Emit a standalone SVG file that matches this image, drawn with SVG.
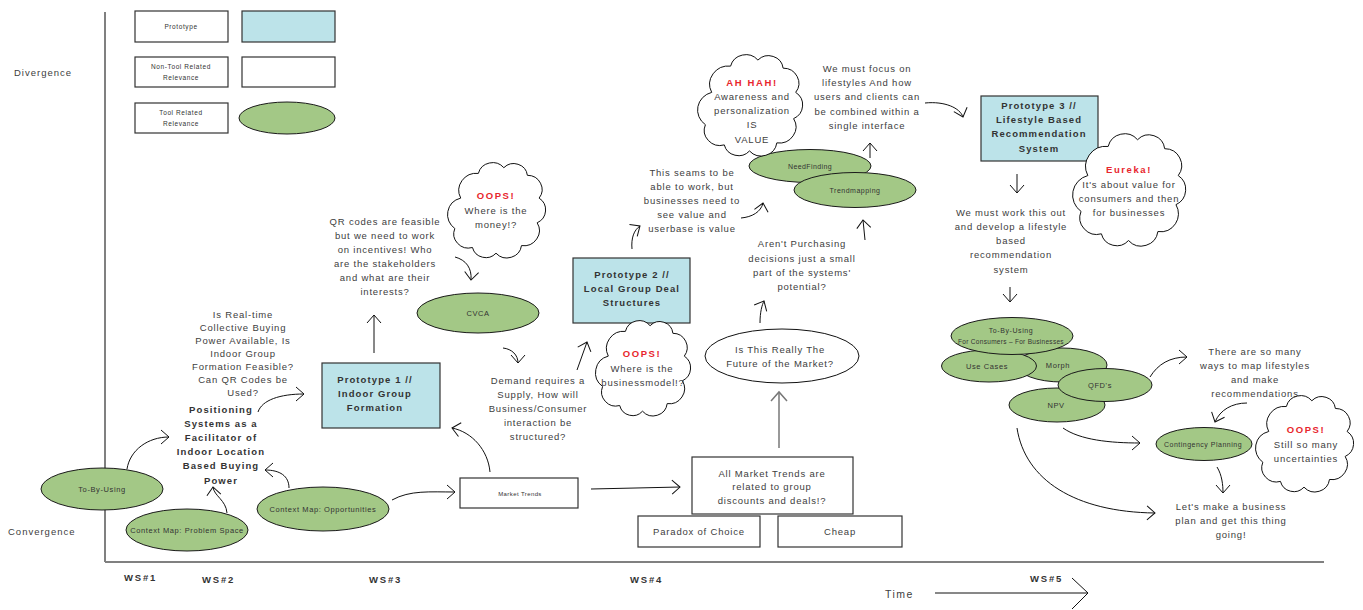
<svg xmlns="http://www.w3.org/2000/svg" xmlns:xlink="http://www.w3.org/1999/xlink" width="1363" height="610" viewBox="0 0 1363 610">
<style>
text{font-family:"Liberation Sans",Arial,sans-serif;text-anchor:middle}
.t{font-size:9.5px;letter-spacing:0.8px;fill:#404040}
.b{font-size:9.5px;font-weight:bold;letter-spacing:1.1px;fill:#333}
.r{font-size:9.5px;font-weight:bold;letter-spacing:1.6px;fill:#e8262d}
.e{font-size:7.5px;letter-spacing:0.6px;fill:#333}
.s{font-size:6.5px;letter-spacing:0.6px;fill:#333}
.ax{font-size:9.5px;letter-spacing:1px;fill:#404040;text-anchor:start}
.ws{font-size:9.5px;font-weight:bold;letter-spacing:1.8px;fill:#333;text-anchor:start}
.ell{fill:#a3c886;stroke:#1a1a1a;stroke-width:1}
.proto{fill:#bce3e9;stroke:#333;stroke-width:1.2}
.box{fill:#fff;stroke:#333;stroke-width:1.2}
.cloud{fill:#fff;stroke:#111;stroke-width:1}
.c{fill:none;stroke:#111;stroke-width:1;marker-end:url(#ah)}
</style>
<defs>
<marker id="ah" markerUnits="userSpaceOnUse" viewBox="-1 -8 10 16" refX="8" refY="0" markerWidth="10" markerHeight="16" orient="auto" overflow="visible">
<path d="M0,-7 L8,0 L0,7" fill="none" stroke="#111" stroke-width="1"/>
</marker>
<marker id="ahg" markerUnits="userSpaceOnUse" viewBox="-1 -8 10 16" refX="8" refY="0" markerWidth="10" markerHeight="16" orient="auto" overflow="visible">
<path d="M0,-8 L9,0 L0,8" fill="none" stroke="#777" stroke-width="1.5"/>
</marker>
<path id="cl" vector-effect="non-scaling-stroke" d="M14,38 A18,18 0 0 1 32,12 A15,15 0 0 1 58,6 A14,14 0 0 1 82,14 A15,15 0 0 1 94,38 A15,15 0 0 1 92,64 A16,16 0 0 1 76,88 A15,15 0 0 1 50,96 A14,14 0 0 1 26,90 A15,15 0 0 1 8,70 A18,18 0 0 1 14,38 Z"/>
</defs>

<g id="axes">
<line x1="105" y1="12" x2="105" y2="562" stroke="#808080" stroke-width="2"/>
<line x1="105" y1="562" x2="1324" y2="562" stroke="#808080" stroke-width="2"/>
<text class="ax" x="14" y="76">Divergence</text>
<text class="ax" x="8" y="535">Convergence</text>
<text class="ws" x="124" y="581">WS#1</text>
<text class="ws" x="202" y="583">WS#2</text>
<text class="ws" x="369" y="583">WS#3</text>
<text class="ws" x="630" y="583">WS#4</text>
<text class="ws" x="1030" y="582">WS#5</text>
<text class="ax" x="885" y="598" style="font-size:10.5px;letter-spacing:1.5px">Time</text>
<line x1="935" y1="593" x2="1088" y2="593" stroke="#111" stroke-width="1"/>
<polyline points="1072,578 1088,593 1072,609" fill="none" stroke="#111" stroke-width="1"/>
</g>

<g id="legend">
<rect class="box" x="135" y="11" width="93" height="31"/>
<text class="s" x="181" y="29">Prototype</text>
<rect class="proto" x="242" y="11" width="93" height="31"/>
<rect class="box" x="135" y="57" width="93" height="30"/>
<text class="s" x="181" y="69">Non-Tool Related</text>
<text class="s" x="181" y="80">Relevance</text>
<rect class="box" x="242" y="57" width="93" height="30"/>
<rect class="box" x="135" y="103" width="93" height="30"/>
<text class="s" x="181" y="115">Tool Related</text>
<text class="s" x="181" y="126">Relevance</text>
<ellipse class="ell" cx="287" cy="118" rx="48" ry="16"/>
</g>

<g id="connectors">
<path class="c" d="M127,469 C130,450 148,437 169,437"/>
<path class="c" d="M227,513 C226,500 214,496 213,487"/>
<path class="c" d="M289,488 C289,476 280,470 265,470"/>
<path class="c" d="M258,412 C262,400 280,394 304,394"/>
<path class="c" d="M392,500 C410,490 430,492 455,492"/>
<path class="c" d="M490,472 C488,450 472,432 452,428"/>
<path class="c" d="M374,353 L374,315"/>
<path class="c" d="M455,257 C466,260 472,268 471,280"/>
<path class="c" d="M503,348 C512,349 518,355 518,363"/>
<path class="c" d="M577,370 L587,342"/>
<path class="c" d="M632,249 C631,238 634,230 640,226"/>
<path class="c" d="M741,218 C752,217 761,212 763,203"/>
<path class="c" d="M865,240 L863,220"/>
<path class="c" d="M870,158 L870,143"/>
<path class="c" d="M925,103 C945,101 960,108 963,117"/>
<path class="c" d="M760,323 C760,312 762,305 764,301"/>
<path d="M779,448 L779,393" fill="none" stroke="#777" stroke-width="1.5" marker-end="url(#ahg)"/>
<path class="c" d="M591,489 L680,487"/>
<path class="c" d="M1017,174 L1017,193"/>
<path class="c" d="M1010,287 L1010,302"/>
<path class="c" d="M1150,377 C1158,364 1170,357 1187,357"/>
<path class="c" d="M1247,403 C1232,403 1220,410 1215,422"/>
<path class="c" d="M1063,428 C1080,440 1110,443 1140,443"/>
<path class="c" d="M1217,467 C1222,475 1223,485 1223,493"/>
<path class="c" d="M1017,428 C1025,480 1075,512 1155,513"/>
</g>

<g id="to-by-using">
<ellipse class="ell" cx="102" cy="489" rx="61" ry="21"/>
<text class="e" x="102" y="492">To-By-Using</text>
</g>
<g id="context-problem">
<ellipse class="ell" cx="187" cy="530" rx="61" ry="21"/>
<text class="e" x="187" y="533">Context Map: Problem Space</text>
</g>
<g id="context-opportunities">
<ellipse class="ell" cx="323" cy="509" rx="66" ry="22"/>
<text class="e" x="323" y="512">Context Map: Opportunities</text>
</g>
<g id="positioning">
<text class="b" x="221" y="413">Positioning</text>
<text class="b" x="221" y="427">Systems as a</text>
<text class="b" x="221" y="441">Facilitator of</text>
<text class="b" x="221" y="455">Indoor Location</text>
<text class="b" x="221" y="469">Based Buying</text>
<text class="b" x="221" y="484">Power</text>
</g>
<g id="realtime-question">
<text class="t" x="243" y="318">Is Real-time</text>
<text class="t" x="243" y="331">Collective Buying</text>
<text class="t" x="243" y="344">Power Available, Is</text>
<text class="t" x="243" y="357">Indoor Group</text>
<text class="t" x="243" y="370">Formation Feasible?</text>
<text class="t" x="243" y="383">Can QR Codes be</text>
<text class="t" x="243" y="396">Used?</text>
</g>
<g id="prototype1">
<rect class="proto" x="322" y="363" width="118" height="65"/>
<text class="b" x="375" y="383">Prototype 1 //</text>
<text class="b" x="375" y="397">Indoor Group</text>
<text class="b" x="375" y="411">Formation</text>
</g>
<g id="qr-codes">
<text class="t" x="385" y="225">QR codes are feasible</text>
<text class="t" x="385" y="239">but we need to work</text>
<text class="t" x="385" y="253">on incentives! Who</text>
<text class="t" x="385" y="267">are the stakeholders</text>
<text class="t" x="385" y="281">and what are their</text>
<text class="t" x="385" y="295">interests?</text>
</g>
<g id="oops-money">
<use href="#cl" class="cloud" transform="translate(447,162) scale(0.98,0.95)"/>
<text class="r" x="496" y="199">OOPS!</text>
<text class="t" x="496" y="214">Where is the</text>
<text class="t" x="496" y="228">money!?</text>
</g>
<g id="cvca">
<ellipse class="ell" cx="478" cy="313" rx="61" ry="20"/>
<text class="e" x="478" y="316">CVCA</text>
</g>
<g id="market-trends">
<rect class="box" x="460" y="478" width="118" height="30"/>
<text class="s" x="520" y="496" style="font-size:6px;letter-spacing:0.4px">Market Trends</text>
</g>
<g id="demand">
<text class="t" x="538" y="384">Demand requires a</text>
<text class="t" x="538" y="398">Supply, How will</text>
<text class="t" x="538" y="412">Business/Consumer</text>
<text class="t" x="538" y="426">interaction be</text>
<text class="t" x="538" y="440">structured?</text>
</g>
<g id="prototype2">
<rect class="proto" x="573" y="258" width="117" height="65"/>
<text class="b" x="632" y="278">Prototype 2 //</text>
<text class="b" x="632" y="292">Local Group Deal</text>
<text class="b" x="632" y="306">Structures</text>
</g>
<g id="oops-businessmodel">
<use href="#cl" class="cloud" transform="translate(595,320) scale(0.95,0.95)"/>
<text class="r" x="642" y="357">OOPS!</text>
<text class="t" x="642" y="372">Where is the</text>
<text class="t" x="643" y="386">businessmodel!?</text>
</g>
<g id="seams">
<text class="t" x="692" y="176">This seams to be</text>
<text class="t" x="692" y="190">able to work, but</text>
<text class="t" x="692" y="204">businesses need to</text>
<text class="t" x="692" y="218">see value and</text>
<text class="t" x="692" y="232">userbase is value</text>
</g>
<g id="needfinding">
<ellipse class="ell" cx="810" cy="166" rx="61" ry="16.5"/>
<text class="e" x="810" y="169" style="font-size:7px;letter-spacing:0.4px">NeedFinding</text>
</g>
<g id="trendmapping">
<ellipse class="ell" cx="855" cy="190" rx="61" ry="17.5"/>
<text class="e" x="855" y="193" style="font-size:7px;letter-spacing:0.5px">Trendmapping</text>
</g>
<g id="ahhah">
<use href="#cl" class="cloud" transform="translate(697,54) scale(1.05,1.01)"/>
<text class="r" x="752" y="86">AH HAH!</text>
<text class="t" x="752" y="100">Awareness and</text>
<text class="t" x="752" y="114">personalization</text>
<text class="t" x="752" y="128">IS</text>
<text class="t" x="752" y="143">VALUE</text>
</g>
<g id="purchasing">
<text class="t" x="802" y="247">Aren't Purchasing</text>
<text class="t" x="802" y="262">decisions just a small</text>
<text class="t" x="802" y="276">part of the systems'</text>
<text class="t" x="802" y="290">potential?</text>
</g>
<g id="focus">
<text class="t" x="867" y="72">We must focus on</text>
<text class="t" x="867" y="86">lifestyles And how</text>
<text class="t" x="867" y="100">users and clients can</text>
<text class="t" x="867" y="115">be combined within a</text>
<text class="t" x="867" y="129">single interface</text>
</g>
<g id="future-market">
<ellipse cx="782" cy="356" rx="77" ry="27" fill="#fff" stroke="#111" stroke-width="1"/>
<text class="t" x="780" y="353">Is This Really The</text>
<text class="t" x="780" y="367">Future of the Market?</text>
</g>
<g id="all-market-trends">
<rect class="box" x="692" y="457" width="161" height="57"/>
<text class="t" x="772" y="477">All Market Trends are</text>
<text class="t" x="772" y="490">related to group</text>
<text class="t" x="772" y="504">discounts and deals!?</text>
</g>
<g id="paradox">
<rect class="box" x="638" y="516" width="122" height="31"/>
<text class="t" x="699" y="535">Paradox of Choice</text>
</g>
<g id="cheap">
<rect class="box" x="778" y="516" width="124" height="31"/>
<text class="t" x="840" y="535">Cheap</text>
</g>
<g id="prototype3">
<rect class="proto" x="981" y="96" width="117" height="65"/>
<text class="b" x="1039" y="109">Prototype 3 //</text>
<text class="b" x="1039" y="123">Lifestyle Based</text>
<text class="b" x="1039" y="137">Recommendation</text>
<text class="b" x="1039" y="152">System</text>
</g>
<g id="eureka">
<use href="#cl" class="cloud" transform="translate(1072,133) scale(1.13,1.12)"/>
<text class="r" x="1129" y="173">Eureka!</text>
<text class="t" x="1129" y="188">It's about value for</text>
<text class="t" x="1129" y="202">consumers and then</text>
<text class="t" x="1129" y="216">for businesses</text>
</g>
<g id="work-out">
<text class="t" x="1011" y="216">We must work this out</text>
<text class="t" x="1011" y="230">and develop a lifestyle</text>
<text class="t" x="1011" y="244">based</text>
<text class="t" x="1011" y="258">recommendation</text>
<text class="t" x="1011" y="273">system</text>
</g>
<g id="morph">
<ellipse class="ell" cx="1062" cy="365" rx="45" ry="17"/>
<text class="e" x="1058" y="368">Morph</text>
</g>
<g id="npv">
<ellipse class="ell" cx="1057" cy="405" rx="48" ry="17"/>
<text class="e" x="1056" y="408">NPV</text>
</g>
<g id="qfds">
<ellipse class="ell" cx="1105" cy="385" rx="47" ry="16.5"/>
<text class="e" x="1100" y="388">QFD's</text>
</g>
<g id="use-cases">
<ellipse class="ell" cx="989" cy="366" rx="47.5" ry="16"/>
<text class="e" x="987" y="369">Use Cases</text>
</g>
<g id="to-by-using-2">
<ellipse class="ell" cx="1012" cy="336" rx="61" ry="18.5"/>
<text class="e" x="1011" y="333" style="font-size:7px">To-By-Using</text>
<text class="e" x="1011" y="344" style="font-size:6.5px;letter-spacing:0.3px">For Consumers – For Businesses</text>
</g>
<g id="many-ways">
<text class="t" x="1255" y="355">There are so many</text>
<text class="t" x="1255" y="369">ways to map lifestyles</text>
<text class="t" x="1255" y="383">and make</text>
<text class="t" x="1255" y="397">recommendations</text>
</g>
<g id="contingency">
<ellipse class="ell" cx="1204" cy="444" rx="48" ry="16.5"/>
<text class="e" x="1203" y="447" style="font-size:7px;letter-spacing:0.5px">Contingency Planning</text>
</g>
<g id="oops-uncertainties">
<use href="#cl" class="cloud" transform="translate(1255,395) scale(0.98,0.96)"/>
<text class="r" x="1306" y="433">OOPS!</text>
<text class="t" x="1306" y="448">Still so many</text>
<text class="t" x="1306" y="462">uncertainties</text>
</g>
<g id="business-plan">
<text class="t" x="1231" y="510">Let's make a business</text>
<text class="t" x="1231" y="524">plan and get this thing</text>
<text class="t" x="1231" y="538">going!</text>
</g>
</svg>
